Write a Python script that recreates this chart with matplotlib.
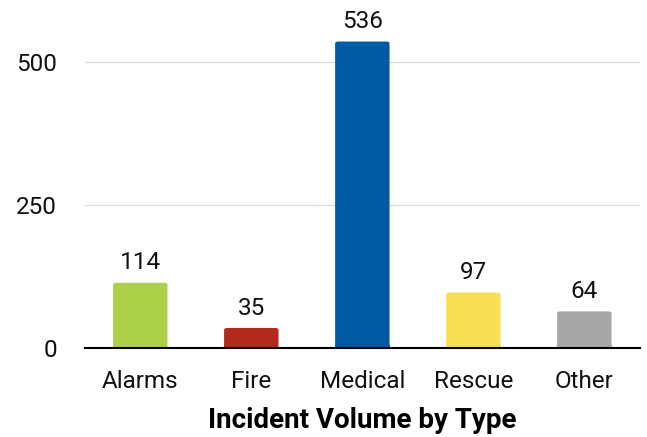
import matplotlib
matplotlib.use('Agg')
import matplotlib.pyplot as plt
from matplotlib.patches import FancyBboxPatch
import numpy as np

categories = ['Alarms', 'Fire', 'Medical', 'Rescue', 'Other']
counts = [114, 35, 536, 97, 64]
colors = ['#add04a', '#b12a1c', '#005ba4', '#f7e053', '#a6a6a6']

plt.rcParams['font.family'] = ['Roboto', 'DejaVu Sans']

fig = plt.figure(figsize=(6.47, 4.37), dpi=100)
ax = fig.add_axes([0.131, 0.2037, 0.858, 0.785])

x = np.arange(len(categories))
bars = ax.bar(x, counts, width=0.49, color=colors, zorder=3)

# swap in slightly rounded bars
for b in bars:
    bx, by = b.get_x(), b.get_y()
    w, h = b.get_width(), b.get_height()
    r = FancyBboxPatch((bx, by), w, h, boxstyle='round,pad=0,rounding_size=0.03',
                       mutation_aspect=600 / 5 * 0.8,
                       facecolor=b.get_facecolor(), edgecolor='none', zorder=3)
    b.set_visible(False)
    ax.add_patch(r)
    ax.bar(bx + w / 2, min(h, 6), width=w, color=b.get_facecolor(), zorder=3)

for xi, v in zip(x, counts):
    ax.annotate(str(v), (xi, v), xytext=(0, 6), textcoords='offset points',
                ha='center', va='bottom', fontsize=17.5, color='#111111')

ax.set_xlim(-0.5, 4.5)
ax.set_ylim(0, 600)
ax.set_yticks([0, 250, 500])
ax.set_xticks(x)
ax.set_xticklabels(categories)
ax.tick_params(axis='both', length=0, labelsize=17.5, colors='#111111')
ax.tick_params(axis='y', pad=20)
ax.tick_params(axis='x', pad=16)
ax.grid(axis='y', color='#dddddd', linewidth=1, zorder=0)
for s in ['top', 'right', 'left']:
    ax.spines[s].set_visible(False)
ax.spines['bottom'].set_color('black')
ax.spines['bottom'].set_linewidth(1.5)
ax.spines['bottom'].set_zorder(4)
ax.set_xlabel('Incident Volume by Type', fontsize=20, fontweight='bold', labelpad=10)

fig.savefig('out.png', dpi=100)
